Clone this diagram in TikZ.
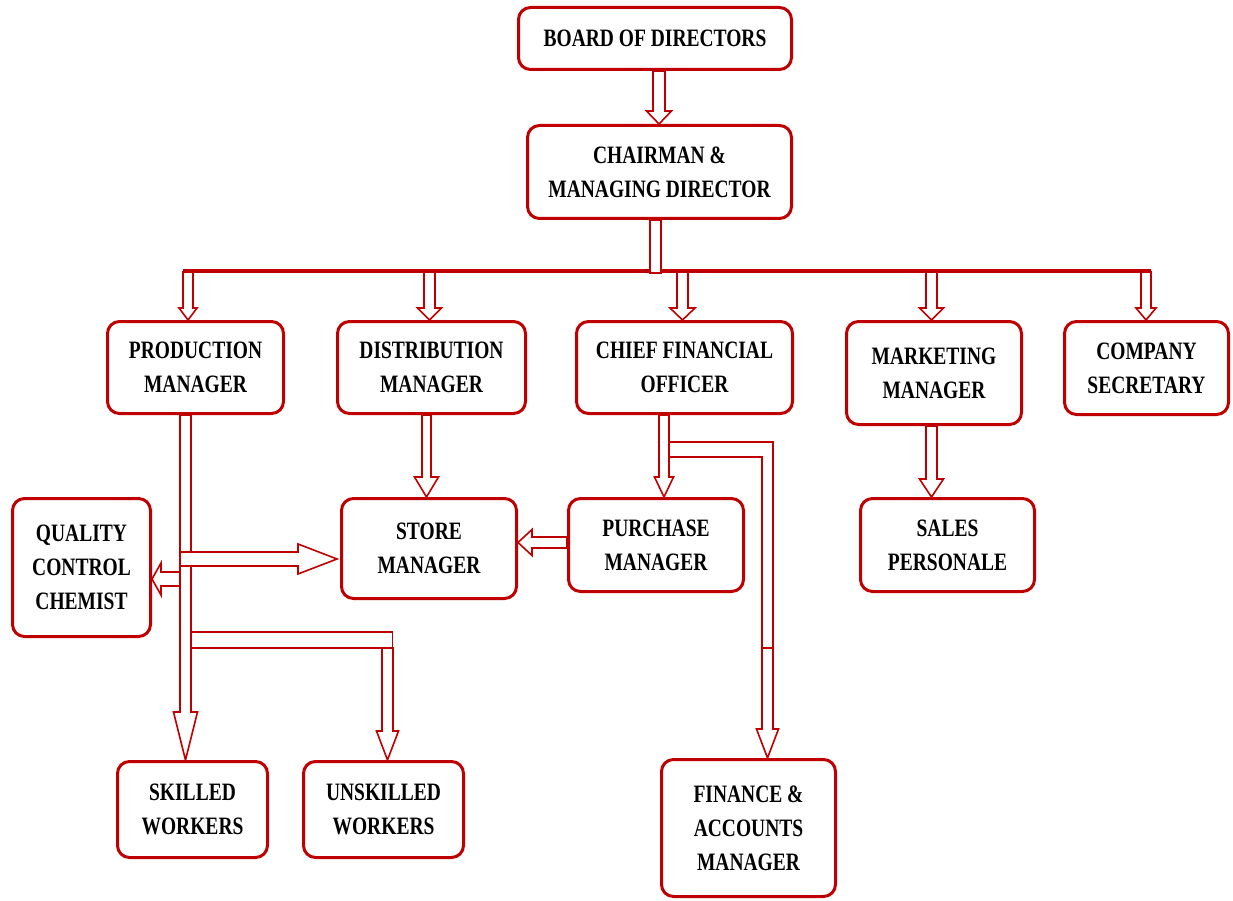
\documentclass[tikz,border=0pt]{standalone}
\usepackage{fontspec}
\setmainfont{Liberation Serif}[FakeStretch=0.78]
\usetikzlibrary{calc}
\definecolor{boxred}{RGB}{192,0,0}
\pgfdeclarelayer{back}
\pgfdeclarelayer{bg}
\pgfsetlayers{back,bg,main}
\tikzset{
  box/.style={draw=boxred, line width=3pt, rounded corners=12pt, fill=white, align=center,
    inner sep=0pt, font=\bfseries\fontsize{25}{34}\selectfont},
  conn/.style={draw=boxred, fill=white, line width=1.6pt, line join=miter},
  bus/.style={draw=boxred, line width=4pt}
}
% vertical arrow down: x from #1, tip y from #2; #3 shaft half, #4 head half, #5 head length
\newcommand\arrD[5]{\draw[conn] let \p1=(#1),\p2=(#2) in
  (\x1-#3,\y1) -- (\x1-#3,\y2+#5) -- (\x1-#4,\y2+#5) -- (\x1,\y2) -- (\x1+#4,\y2+#5) -- (\x1+#3,\y2+#5) -- (\x1+#3,\y1) -- cycle;}
% horizontal arrow right
\newcommand\arrR[5]{\draw[conn] let \p1=(#1),\p2=(#2) in
  (\x1,\y1-#3) -- (\x2-#5,\y1-#3) -- (\x2-#5,\y1-#4) -- (\x2,\y1) -- (\x2-#5,\y1+#4) -- (\x2-#5,\y1+#3) -- (\x1,\y1+#3) -- cycle;}
% horizontal arrow left
\newcommand\arrL[5]{\draw[conn] let \p1=(#1),\p2=(#2) in
  (\x1,\y1-#3) -- (\x2+#5,\y1-#3) -- (\x2+#5,\y1-#4) -- (\x2,\y1) -- (\x2+#5,\y1+#4) -- (\x2+#5,\y1+#3) -- (\x1,\y1+#3) -- cycle;}
\begin{document}
\begin{tikzpicture}[x=1pt,y=1pt]
\begin{pgfonlayer}{back}
\fill[white] (0,0) rectangle (1233,-901);
\end{pgfonlayer}
\useasboundingbox (0,0) rectangle (1233,-901);

\node[box, minimum width=273pt, minimum height=62pt] (bod) at (655,-38.5) {BOARD OF DIRECTORS};
\node[box, minimum width=264pt, minimum height=93pt] (chair) at (659.5,-172) {CHAIRMAN \&\\MANAGING DIRECTOR};
\node[box, minimum width=176pt, minimum height=92pt] (prod) at (195.5,-367.5) {PRODUCTION\\MANAGER};
\node[box, minimum width=188pt, minimum height=92pt] (dist) at (431.5,-367.5) {DISTRIBUTION\\MANAGER};
\node[box, minimum width=216pt, minimum height=92pt] (cfo) at (684.5,-367.5) {CHIEF FINANCIAL\\OFFICER};
\node[box, minimum width=175pt, minimum height=103pt] (mkt) at (934,-373) {MARKETING\\MANAGER};
\node[box, minimum width=164pt, minimum height=93pt] (cs) at (1146.5,-368) {COMPANY\\SECRETARY};
\node[box, minimum width=138pt, minimum height=138pt] (qc) at (81.5,-567.5) {QUALITY\\CONTROL\\CHEMIST};
\node[box, minimum width=175pt, minimum height=100pt] (store) at (429,-548.5) {STORE\\MANAGER};
\node[box, minimum width=175pt, minimum height=93pt] (purch) at (656,-545) {PURCHASE\\MANAGER};
\node[box, minimum width=174pt, minimum height=93pt] (sales) at (947.5,-545) {SALES\\PERSONALE};
\node[box, minimum width=150pt, minimum height=96pt] (skilled) at (192.5,-809.5) {SKILLED\\WORKERS};
\node[box, minimum width=160pt, minimum height=96pt] (unsk) at (383.5,-809.5) {UNSKILLED\\WORKERS};
\node[box, minimum width=174pt, minimum height=137pt] (fin) at (748.5,-828) {FINANCE \&\\ACCOUNTS\\MANAGER};

% junction coordinates
\coordinate (busL) at (183,-271);
\coordinate (busR) at (1151,-271);
\coordinate (trunkTop) at (655.5,-220);
\coordinate (trunkBot) at (655.5,-273);
\coordinate (bodOut) at (659,-71);
\coordinate (b1) at (188,-272);
\coordinate (b2) at (429.5,-272);
\coordinate (b3) at (682.5,-272);
\coordinate (b4) at (931.5,-272);
\coordinate (b5) at (1146,-272);
\coordinate (distOut) at (426.5,-415);
\coordinate (cfoOut) at (664,-415);
\coordinate (mktOut) at (931.5,-426);
\coordinate (prodOut) at (185.5,-415);
\coordinate (jStore) at (180,-559);
\coordinate (jQC) at (180,-579);
\coordinate (storeIn) at (337,-559);
\coordinate (purchOut) at (567,-542.5);
\coordinate (jUnskA) at (191,-632);
\coordinate (jUnskB) at (392.5,-648);
\coordinate (jUnsk) at (387.5,-648);
\coordinate (jFin) at (767.5,-648);
\coordinate (cfoBarA) at (669,-442);
\coordinate (cfoBarB) at (773,-457);

\begin{pgfonlayer}{bg}
  \draw[bus] (busL) -- (busR);
  \draw[conn] ($(trunkTop)+(-5.5,0)$) rectangle ($(trunkBot)+(5.5,0)$);
  \arrD{bodOut}{chair.north}{6pt}{12.5pt}{13pt}
  \arrD{b1}{prod.north}{5pt}{9pt}{12pt}
  \arrD{b2}{dist.north}{5.5pt}{12pt}{12pt}
  \arrD{b3}{cfo.north}{5.5pt}{12.5pt}{12pt}
  \arrD{b4}{mkt.north}{5.5pt}{12pt}{12pt}
  \arrD{b5}{cs.north}{5pt}{10pt}{12pt}
  \arrD{distOut}{store.north}{4.5pt}{12pt}{20pt}
  \arrD{cfoOut}{purch.north}{5pt}{9.5pt}{20pt}
  \arrD{mktOut}{sales.north}{5.5pt}{12pt}{18pt}
  % production trunk
  \arrD{prodOut}{skilled.north}{5.5pt}{12pt}{48pt}
  \draw[conn] (jUnskA) rectangle (jUnskB);
  \arrD{jUnsk}{unsk.north}{5.5pt}{11pt}{29pt}
  \arrR{jStore}{storeIn}{7pt}{15pt}{39pt}
  \arrL{jQC}{qc.east}{7pt}{16pt}{9pt}
  \arrL{purchOut}{store.east}{5.5pt}{13pt}{14pt}
  % CFO to finance
  \draw[conn] (cfoBarA) -- (cfoBarA -| cfoBarB) -- (cfoBarB |- jFin) -- ($(jFin)+(-5.5,0)$) -- ($(jFin |- cfoBarB)+(-5.5,0)$) -- (cfoBarA |- cfoBarB) -- cycle;
  \arrD{jFin}{fin.north}{5.5pt}{11pt}{29pt}
\end{pgfonlayer}
\end{tikzpicture}
\end{document}
